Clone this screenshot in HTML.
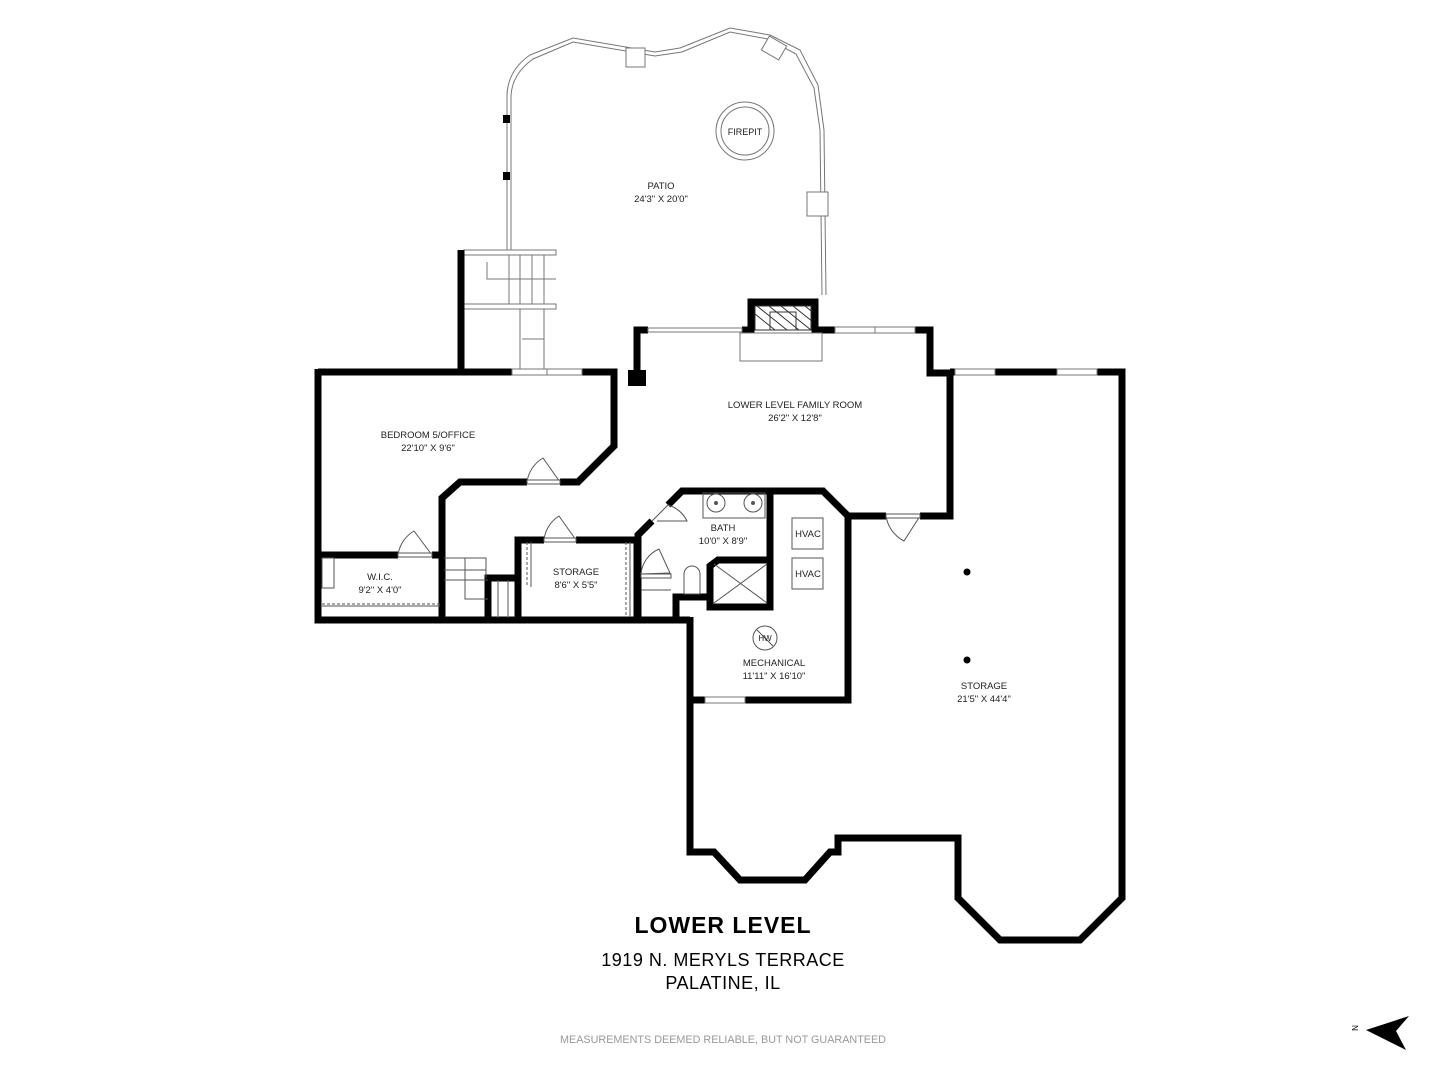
<!DOCTYPE html>
<html><head><meta charset="utf-8"><style>
html,body{margin:0;padding:0;background:#fff;}
svg{display:block}
text{font-family:"Liberation Sans",sans-serif;}
</style></head><body>
<svg width="1440" height="1080" viewBox="0 0 1440 1080" xmlns="http://www.w3.org/2000/svg">
<rect width="1440" height="1080" fill="#fff"/>
<g fill="none" stroke="#777" stroke-width="1">
<path d="M507,250 L507,95 Q508,70 530,55 L573,38 L655,52 L680,48 L730,28 L770,35 L800,50 L818,85 L824,130 L826,295"/>
<path d="M511,250 L511,96 Q512,74 533,59 L573,42 L655,56 L682,52 L730,32 L768,39 L796,54 L814,88 L820,130 L822,295"/>
<rect x="626" y="48" width="19" height="19" fill="#fff"/>
<rect x="764" y="40" width="20" height="16" fill="#fff" transform="rotate(30 774 48)"/>
<rect x="807" y="192" width="21" height="24" fill="#fff"/>
<circle cx="745" cy="131" r="29"/><circle cx="745" cy="131" r="24"/>
</g>
<rect x="503" y="115" width="7" height="8" fill="#000"/>
<rect x="503" y="172" width="7" height="8" fill="#000"/>
<g fill="none" stroke="#777" stroke-width="1">
<rect x="464" y="250" width="92" height="5"/>
<rect x="464" y="304" width="92" height="5"/>
<line x1="509" y1="255" x2="509" y2="304"/><line x1="520" y1="255" x2="520" y2="304"/><line x1="532" y1="255" x2="532" y2="304"/><line x1="544" y1="255" x2="544" y2="304"/>
<polyline points="487,262 487,279 556,279"/>
<line x1="520" y1="309" x2="520" y2="370"/><line x1="544" y1="309" x2="544" y2="370"/>
<line x1="522" y1="339" x2="544" y2="339"/>
</g>
<g fill="none" stroke="#000" stroke-width="7" stroke-linejoin="miter">
<polyline points="461,250 461,372"/>
<polyline points="318,372 512,372"/><polyline points="582,372 614,372 614,446 578,482 560,482"/>
<polyline points="527,482 460,482 442,498 442,620"/>
<polyline points="318,369 318,620 690,620"/>
<polyline points="318,555 398,555"/><polyline points="432,555 442,555"/>
<polyline points="637,378 637,330 648,330"/>
<polyline points="742,330 751,330 751,302 815,302 815,330 835,330"/>
<polyline points="915,330 930,330 930,373 950,373"/>
<polyline points="950,372 955,372"/><polyline points="995,372 1057,372"/><polyline points="1097,372 1122,372 1122,898 1080,940 1000,940 958,898 958,838 838,838 838,852 830,852 805,880 740,880 714,852 690,852 690,617"/>
<polyline points="950,373 950,516 920,516"/><polyline points="886,516 848,516 823,491 682,491 668,505"/>
<polyline points="652,521 638,535 638,620"/>
<polyline points="848,516 848,700 745,700"/><polyline points="705,700 690,700"/>
<polyline points="770,491 770,607 710,607 710,566 718,560 770,560"/>
<polyline points="676,620 676,597 710,597"/>
<polyline points="518,620 518,540 544,540"/><polyline points="576,540 637,540 637,620"/>
<polyline points="488,620 488,578 518,578"/>
</g>
<rect x="628" y="370" width="18" height="16" fill="#000"/>
<g fill="#fff" stroke="#777" stroke-width="1">
<rect x="512" y="369" width="70" height="6"/><line x1="547" y1="369" x2="547" y2="375"/>
<rect x="648" y="328" width="94" height="4"/>
<rect x="835" y="327" width="80" height="6"/><line x1="875" y1="327" x2="875" y2="333"/>
<rect x="955" y="369" width="40" height="6"/><rect x="1057" y="369" width="40" height="6"/>
<rect x="705" y="697" width="40" height="6"/>
<rect x="740" y="333" width="82" height="28"/>
</g>
<g stroke="#333" stroke-width="1" fill="none">
<rect x="755" y="306" width="56" height="24"/><rect x="770" y="312" width="26" height="18"/>
<clipPath id="fp"><rect x="755" y="306" width="56" height="24"/></clipPath>
<g clip-path="url(#fp)"><path d="M745,306l30,24M757,306l30,24M769,306l30,24M781,306l30,24M793,306l30,24M805,306l30,24"/></g>
</g>
<g fill="none" stroke="#555" stroke-width="1">
<path d="M527,482 A33,33 0 0 1 543,458 L560,482"/><rect x="527" y="480" width="33" height="4" fill="#fff"/>
<path d="M398,555 A33,33 0 0 1 414,531 L432,555"/><rect x="398" y="553" width="34" height="4" fill="#fff"/>
<path d="M544,540 A32,32 0 0 1 559,516 L576,540"/><rect x="544" y="538" width="32" height="4" fill="#fff"/>
<path d="M886,516 A34,34 0 0 0 904,541 L920,516"/><rect x="886" y="514" width="34" height="4" fill="#fff"/>
<path d="M668,505 L652,521 M668,505 A30,30 0 0 1 687,521 L657,521"/>
<path d="M641,574 A30,30 0 0 1 659,549 L670,573 Z"/>
<rect x="641" y="574" width="30" height="4"/>
<line x1="641" y1="590" x2="671" y2="590"/>
<rect x="703" y="493" width="62" height="25"/>
<circle cx="716" cy="503" r="9"/><circle cx="753" cy="503" r="9"/>
<circle cx="716" cy="503" r="1.5" fill="#555"/><circle cx="753" cy="503" r="1.5" fill="#555"/>
<path d="M684,594 L684,574 A8,8 0 0 1 700,574 L700,594 Z"/>
<path d="M714,603 L767,564 M714,564 L767,603"/>
<rect x="792" y="518" width="31" height="31"/><rect x="792" y="558" width="31" height="31"/>
<circle cx="765" cy="638" r="12"/><line x1="757" y1="630" x2="773" y2="646"/>
<rect x="322" y="558" width="12" height="30"/>
<line x1="322" y1="604" x2="440" y2="604" stroke-dasharray="3,2"/><line x1="322" y1="606" x2="440" y2="606"/>
<line x1="527" y1="542" x2="527" y2="587" stroke-dasharray="3,2"/><line x1="531" y1="542" x2="531" y2="587"/>
<line x1="626" y1="542" x2="626" y2="617" stroke-dasharray="3,2"/><line x1="630" y1="542" x2="630" y2="617"/>
<polyline points="444,558 486,558 486,578"/>
<line x1="444" y1="570" x2="486" y2="570"/><line x1="444" y1="580" x2="488" y2="580"/>
<polyline points="465,558 465,599 488,599"/>
<line x1="498" y1="580" x2="498" y2="618"/><line x1="508" y1="580" x2="508" y2="618"/>
</g>
<circle cx="967" cy="572" r="3.5" fill="#000"/><circle cx="967" cy="660" r="3.5" fill="#000"/>
<g font-size="9.5" fill="#222" text-anchor="middle">
<text x="745" y="135" font-size="9">FIREPIT</text>
<text x="661" y="189">PATIO</text><text x="661" y="202">24'3" X 20'0"</text>
<text x="795" y="408">LOWER LEVEL FAMILY ROOM</text><text x="795" y="421">26'2" X 12'8"</text>
<text x="428" y="438">BEDROOM 5/OFFICE</text><text x="428" y="451">22'10" X 9'6"</text>
<text x="380" y="580">W.I.C.</text><text x="380" y="593">9'2" X 4'0"</text>
<text x="576" y="575">STORAGE</text><text x="576" y="588">8'6" X 5'5"</text>
<text x="723" y="531">BATH</text><text x="723" y="544">10'0" X 8'9"</text>
<text x="808" y="537">HVAC</text><text x="808" y="577">HVAC</text>
<text x="765" y="641" font-size="8">HW</text>
<text x="774" y="666">MECHANICAL</text><text x="774" y="679">11'11" X 16'10"</text>
<text x="984" y="689">STORAGE</text><text x="984" y="702">21'5" X 44'4"</text>
</g>
<text x="723" y="933" font-size="23" font-weight="bold" text-anchor="middle" fill="#000" letter-spacing="1">LOWER LEVEL</text>
<text x="723" y="966" font-size="18" text-anchor="middle" fill="#000" letter-spacing="0.5">1919 N. MERYLS TERRACE</text>
<text x="723" y="989" font-size="18" text-anchor="middle" fill="#000" letter-spacing="0.5">PALATINE, IL</text>
<text x="723" y="1043" font-size="10.8" text-anchor="middle" fill="#999">MEASUREMENTS DEEMED RELIABLE, BUT NOT GUARANTEED</text>
<polygon points="1366,1030 1409,1016 1396,1031 1406,1050" fill="#000"/>
<text x="1355" y="1031" font-size="8" fill="#000" text-anchor="middle" transform="rotate(-90 1355 1028)">N</text>
</svg>
</body></html>
